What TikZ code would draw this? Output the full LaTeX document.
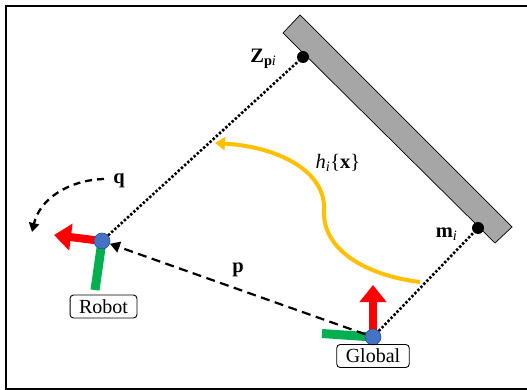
\documentclass[tikz,border=0pt]{standalone}
\usepackage{fontspec}
\setmainfont{Liberation Serif}
\usetikzlibrary{arrows.meta}
\definecolor{wallgray}{HTML}{A6A6A6}
\definecolor{axred}{HTML}{FF0000}
\definecolor{axgreen}{HTML}{00B050}
\definecolor{dotblue}{HTML}{4472C4}
\definecolor{dotedge}{HTML}{2F528F}
\definecolor{curveyel}{HTML}{FFC000}
\begin{document}
\begin{tikzpicture}[x=1pt,y=-1pt,
  framebox/.style={line width=1.5pt},
  wallshape/.style={fill=wallgray,draw=black,line width=0.7pt},
  landmark/.style={circle,fill=black,inner sep=0pt,minimum size=12pt},
  origin/.style={circle,fill=dotblue,draw=dotedge,line width=0.6pt,inner sep=0pt,minimum size=16pt},
  xaxis/.style={axred,line width=8pt,-{Triangle[width=26pt,length=17pt]}},
  yaxis/.style={axgreen,line width=9pt},
  tagbox/.style={draw=black,rounded corners=3.5pt,line width=0.9pt,font=\fontsize{20}{22}\selectfont,text depth=0pt,minimum height=23pt,inner xsep=9pt,inner ysep=2pt},
  lbl/.style={font=\fontsize{20.5}{22}\selectfont},
  dotline/.style={line width=2.6pt,dash pattern=on 2.4pt off 1.9pt},
  dashline/.style={line width=2.2pt,dash pattern=on 9pt off 5.5pt},
]
\useasboundingbox (0,0) rectangle (527,390);
\fill[white] (0,0) rectangle (527,390);
\draw[framebox] (527,6) -- (6,6) -- (6,389) -- (527,389);
% wall
\draw[wallshape] (300,15) -- (512,227) -- (495,243) -- (283,33) -- cycle;
% points
\node[landmark] (Z) at (303,57) {};
\node[landmark] (M) at (478,228) {};
\coordinate (robotc) at (102,241);
\coordinate (globalc) at (373,337);
% robot frame axes
\draw[yaxis] (robotc) -- (95,290);
\draw[xaxis] (robotc) -- (54,235);
% global frame axes
\draw[yaxis] (globalc) -- (322,333.5);
\draw[xaxis] (globalc) -- (373,285);
\node[origin] (robot) at (robotc) {};
\node[origin] (global) at (globalc) {};
% dotted lines
\draw[dotline] (robot) -- (Z);
\draw[dotline] (global) -- (M);
% dashed p arrow
\draw[dashline,-{Triangle[width=11pt,length=10pt]}] (global) -- (robot);
\node[lbl] (plbl) at (238,270) {\textbf{p}};
% q arc
\coordinate (qstart) at (104,179);
\coordinate (qend) at (32,232);
\draw[line width=2.3pt,dash pattern=on 7pt off 5pt,-{Triangle[width=10pt,length=9pt]}] (qstart) .. controls (70,180) and (40,198) .. (qend);
\node[lbl] (qlbl) at (119,181) {\textbf{q}};
% yellow curve
\coordinate (hstart) at (420,282);
\coordinate (hend) at (215,143);
\draw[curveyel,line width=4pt,-{Triangle[width=13pt,length=10pt]}] (hstart) .. controls (370,276) and (322,252) .. (324,210) .. controls (326,172) and (280,147) .. (hend);
\node[lbl] (hlbl) at (338,163) {\textit{h}\textsubscript{\textit{i}}\{\textbf{x}\}};
% labels
\node[lbl,anchor=east] (zlbl) at (280,59) {\textbf{Z}\textsubscript{\textbf{p}\textit{i}}};
\node[lbl,anchor=east] (mlbl) at (461,234) {\textbf{m}\textsubscript{\textit{i}}};
\node[tagbox] (robottag) at (103.5,306.5) {Robot};
\node[tagbox] (globaltag) at (373,356) {Global};
\end{tikzpicture}
\end{document}
